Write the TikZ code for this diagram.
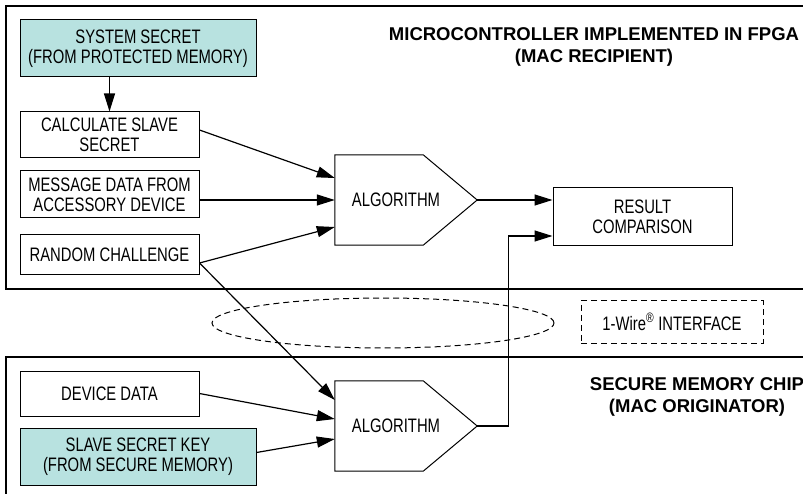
\documentclass[tikz,border=0pt]{standalone}
\usepackage{fontspec}
\setmainfont{Liberation Sans}[FakeStretch=0.76]
\newfontfamily\headfont{Liberation Sans}
\usetikzlibrary{arrows.meta,shapes.geometric}
\definecolor{secretfill}{RGB}{184,226,224}
\tikzset{
  box/.style={draw,line width=1pt,align=center,minimum width=179pt,inner sep=0pt},
  keybox/.style={box,fill=secretfill,minimum width=236pt,minimum height=57pt},
  algo/.style={minimum width=142pt,minimum height=90pt,inner sep=0pt},
  algoline/.style={line width=1pt,line join=miter},
  conn/.style={line width=1.2pt,-{Triangle[length=18pt,width=11pt]}},
  frame/.style={line width=1.3pt},
  dashbox/.style={draw,line width=1pt,dash pattern=on 6pt off 4pt},
  title/.style={align=center,font=\headfont\bfseries\fontsize{18.5}{22}\selectfont}
}
\newcommand\algoshape[1]{\draw[algoline] (#1.north west) -- ([xshift=-54pt]#1.north east) -- (#1.east) -- ([xshift=-54pt]#1.south east) -- (#1.south west) -- cycle;}
\begin{document}
\begin{tikzpicture}[x=1pt,y=-1pt,font=\fontsize{19.5}{20}\selectfont]
\useasboundingbox (0,0) rectangle (803,494);
\draw[frame] (830,6) -- (6,6) -- (6,289) -- (830,289);
\draw[frame] (830,357) -- (6,357) -- (6,510);

\node[keybox] (sys) at (138,48.5) {SYSTEM SECRET\\(FROM PROTECTED MEMORY)};
\node[box,minimum height=46pt] (calc) at (109.5,135) {CALCULATE SLAVE\\SECRET};
\node[box,minimum height=47pt] (msg) at (109.5,194.5) {MESSAGE DATA FROM\\ACCESSORY DEVICE};
\node[box,minimum height=40pt] (rand) at (109.5,255) {RANDOM CHALLENGE};
\node[algo] (alg1) at (406,200) {ALGORITHM\hspace*{20pt}};
\algoshape{alg1}
\node[box,minimum height=58pt] (res) at (642.5,217) {RESULT\\COMPARISON};
\node[title] (fpga) at (594,47) {MICROCONTROLLER IMPLEMENTED IN FPGA\\(MAC RECIPIENT)};

\node[dashbox,ellipse,minimum width=342pt,minimum height=50pt] (bus) at (383,323) {};
\node[dashbox,minimum width=182pt,minimum height=42pt] (wire) at (672,322) {1-Wire\textsuperscript{®} INTERFACE};

\node[box,minimum height=45pt] (dev) at (109.5,393.5) {DEVICE DATA};
\node[keybox] (key) at (138,456.5) {SLAVE SECRET KEY\\(FROM SECURE MEMORY)};
\node[algo] (alg2) at (406,426) {ALGORITHM\hspace*{20pt}};
\algoshape{alg2}
\node[title] (chip) at (697,397) {SECURE MEMORY CHIP\\(MAC ORIGINATOR)};

\draw[conn] (sys.south -| calc.north) -- (calc.north);
\draw[conn] ([yshift=5pt]calc.east) -- ([yshift=22pt]alg1.west);
\draw[conn] (msg.east |- alg1.west) -- (alg1.west);
\draw[conn] ([yshift=-8pt]rand.east) -- ([yshift=-27pt]alg1.west);
\draw[conn] ([yshift=-8pt]rand.east) -- ([yshift=26pt]alg2.west);
\draw[conn] (dev.east) -- ([yshift=7pt]alg2.west);
\draw[conn] ([yshift=4pt]key.east) -- ([yshift=-13pt]alg2.west);
\draw[conn] (alg1.east) -- (alg1.east -| res.west);
\draw[conn] (alg2.east) -- ++(31,0) |- ([yshift=-19pt]res.west);
\end{tikzpicture}
\end{document}
